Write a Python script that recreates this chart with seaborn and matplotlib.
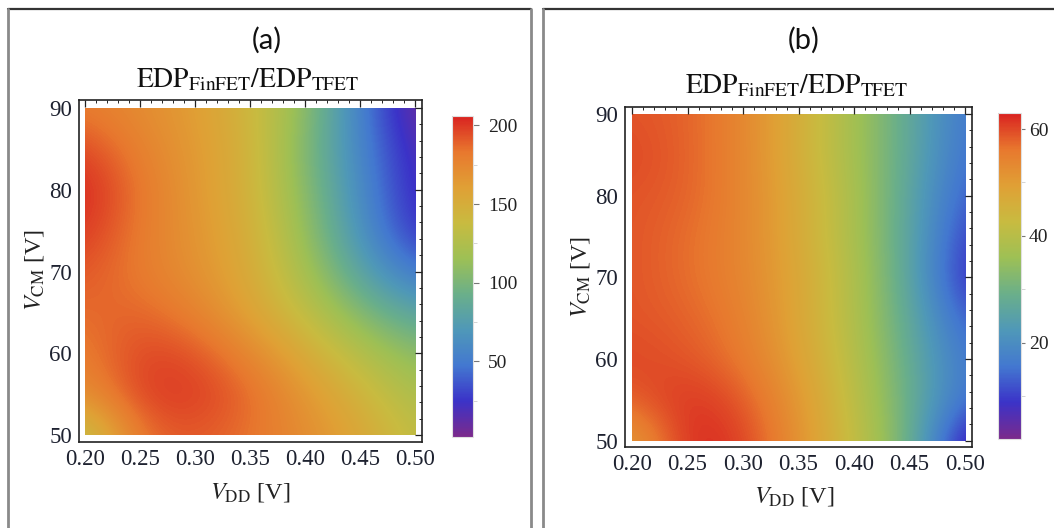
import numpy as np
import matplotlib
matplotlib.use("Agg")
import matplotlib.pyplot as plt
import seaborn as sns
from matplotlib.patches import Rectangle
from matplotlib.lines import Line2D
from matplotlib.colors import Normalize
from matplotlib.ticker import MultipleLocator, FixedLocator

# ---------------- data ----------------
vdd = [0.20, 0.25, 0.30, 0.35, 0.40, 0.45, 0.50]          # columns
vcm = [50, 55, 60, 65, 70, 75, 80, 85, 90]                 # rows
# panel (a): EDP_FinFET / EDP_TFET, rows follow vcm, columns follow vdd
ratio_a = [
    [128, 186, 192, 184, 172, 156, 132],
    [170, 199, 200, 188, 166, 145, 122],
    [180, 197, 194, 175, 152, 128, 106],
    [186, 189, 178, 158, 134, 103, 80],
    [192, 181, 169, 153, 120, 80, 45],
    [201, 181, 167, 150, 112, 65, 22],
    [206, 183, 165, 147, 107, 60, 17],
    [197, 178, 164, 147, 103, 56, 14],
    [181, 172, 162, 143, 110, 52, 5],
]
# panel (b)
ratio_b = [
    [49, 63, 61, 52, 42, 30, 3],
    [58, 62, 59, 51, 41, 29, 14],
    [60, 59, 56, 49, 40, 28, 15],
    [59, 58, 55, 48, 39, 27, 12],
    [59, 57, 54, 48, 39, 26, 7],
    [59, 57, 54, 47, 38, 26, 9],
    [59, 58, 54, 47, 38, 26, 12],
    [60, 58, 54, 46, 37, 27, 14],
    [59, 58, 54, 46, 37, 27, 15],
]
range_a = [2, 206]
range_b = [2, 63]
xticks = [0.20, 0.25, 0.30, 0.35, 0.40, 0.45, 0.50]
xtick_labels = ["0.20", "0.25", "0.30", "0.35", "0.40", "0.45", "0.50"]
yticks = [50, 60, 70, 80, 90]
ytick_labels = ["50", "60", "70", "80", "90"]
cbar_ticks_a = [50, 100, 150, 200]
cbar_minor_a = [25, 75, 125, 175]
cbar_ticks_b = [20, 40, 60]
cbar_minor_b = [10, 30, 50]
panel_labels = ["(a)", "(b)"]
title_text = r"$\mathrm{EDP}_{\mathrm{FinFET}}/\mathrm{EDP}_{\mathrm{TFET}}$"
xlabel_text = r"$V_{\mathrm{DD}}$ [V]"
ylabel_text = r"$V_{\mathrm{CM}}$ [V]"

# ---------------- style ----------------
sns.set_theme(style="white")
plt.rcParams["font.family"] = ["Liberation Serif", "DejaVu Serif"]
plt.rcParams["mathtext.fontset"] = "stix"

rainbow = ["#7a2a8c", "#3b33c8", "#4378d0", "#4f98b8", "#6aaf8a",
           "#9dc055", "#c8bb40", "#e0a035", "#e8782e", "#d92321"]
cmap = sns.blend_palette(rainbow, n_colors=256, as_cmap=True)

W, H = 1054, 528
fig = plt.figure(figsize=(W / 100, H / 100), dpi=100)
fig.patch.set_facecolor("white")


def fx(x):
    return x / W


def fy(y):
    return 1 - y / H


def frac_box(x0, y0, x1, y1):
    return [fx(x0), fy(y1), fx(x1) - fx(x0), fy(y0) - fy(y1)]


# outer frames of the two panels
for (xl, xr) in [(8, 531), (543, 1060)]:
    fig.add_artist(Line2D([fx(xl), fx(xr)], [fy(9), fy(9)], transform=fig.transFigure,
                          color="#333333", lw=1.6))
    fig.add_artist(Line2D([fx(xl), fx(xl)], [fy(9), 0], transform=fig.transFigure,
                          color="#8a8a8a", lw=2.0))
    fig.add_artist(Line2D([fx(xr), fx(xr)], [fy(9), 0], transform=fig.transFigure,
                          color="#8a8a8a", lw=2.0))

panels = [
    dict(data=ratio_a, rng=range_a, ax=(79, 100, 421.7, 441.7), xlim=(0.1945, 0.506),
         ylim=(49.18, 90.98), cax=(452, 116, 473, 437), cticks=cbar_ticks_a,
         cminor=cbar_minor_a, cpad=7, clen=4, label=panel_labels[0], lab_xy=(267, 40),
         title_xy=(248, 80), xl_xy=(250, 492), yl_xy=(35, 270)),
    dict(data=ratio_b, rng=range_b, ax=(625, 107, 971.7, 447), xlim=(0.1937, 0.506),
         ylim=(49.23, 90.86), cax=(998, 113, 1020.7, 439), cticks=cbar_ticks_b,
         cminor=cbar_minor_b, cpad=3, clen=3, label=panel_labels[1], lab_xy=(804, 40),
         title_xy=(797, 86), xl_xy=(794, 497), yl_xy=(580, 277)),
]

tick_color = "#1e2230"
for p in panels:
    ax = fig.add_axes(frac_box(*p["ax"]))
    norm = Normalize(vmin=p["rng"][0], vmax=p["rng"][1])
    z = np.array(p["data"], dtype=float)
    dx = (vdd[1] - vdd[0]) / 2
    dy = (vcm[1] - vcm[0]) / 2
    im = ax.imshow(z, origin="lower", aspect="auto", cmap=cmap, norm=norm,
                   interpolation="bicubic",
                   extent=[vdd[0] - dx, vdd[-1] + dx, vcm[0] - dy, vcm[-1] + dy])
    clip = Rectangle((vdd[0], vcm[0]), vdd[-1] - vdd[0], vcm[-1] - vcm[0],
                     transform=ax.transData, facecolor="none")
    im.set_clip_path(clip)
    ax.set_xlim(*p["xlim"])
    ax.set_ylim(*p["ylim"])
    ax.set_facecolor("white")
    ax.set_xticks(xticks)
    ax.set_xticklabels(xtick_labels)
    ax.set_yticks(yticks)
    ax.set_yticklabels(ytick_labels)
    ax.xaxis.set_minor_locator(MultipleLocator(0.01))
    ax.yaxis.set_minor_locator(MultipleLocator(2))
    ax.tick_params(which="both", direction="in", top=True, right=True,
                   color="#222222", labelcolor=tick_color)
    ax.tick_params(which="major", length=5, width=0.9, labelsize=16.5, pad=5)
    ax.tick_params(which="minor", length=2.5, width=0.7)
    for s in ax.spines.values():
        s.set_visible(True)
        s.set_color("#222222")
        s.set_linewidth(1.2)
    ax.grid(False)

    cax = fig.add_axes(frac_box(*p["cax"]))
    cb = fig.colorbar(im, cax=cax)
    cb.outline.set_edgecolor("#e0e0e0")
    cb.outline.set_linewidth(0.8)
    cb.set_ticks(p["cticks"])
    cax.yaxis.set_minor_locator(FixedLocator(p["cminor"]))
    cax.tick_params(which="major", direction="out", length=p["clen"], width=0.8,
                    color="#777777", labelsize=14, labelcolor="#222222", pad=p["cpad"])
    cax.tick_params(which="minor", direction="out", length=3, width=0.6, color="#cccccc")

    fig.text(fx(p["lab_xy"][0]), fy(p["lab_xy"][1]), p["label"], ha="center", va="center",
             fontsize=21, family=["Lato", "DejaVu Sans"], color="#111111")
    fig.text(fx(p["title_xy"][0]), fy(p["title_xy"][1]), title_text, ha="center",
             va="center", fontsize=20, color="#111111")
    fig.text(fx(p["xl_xy"][0]), fy(p["xl_xy"][1]), xlabel_text, ha="center", va="center",
             fontsize=17.5, color="#222222")
    fig.text(fx(p["yl_xy"][0]), fy(p["yl_xy"][1]), ylabel_text, ha="center", va="center",
             fontsize=17.5, color="#222222", rotation=90)

fig.savefig("out.png", dpi=100, facecolor="white")
